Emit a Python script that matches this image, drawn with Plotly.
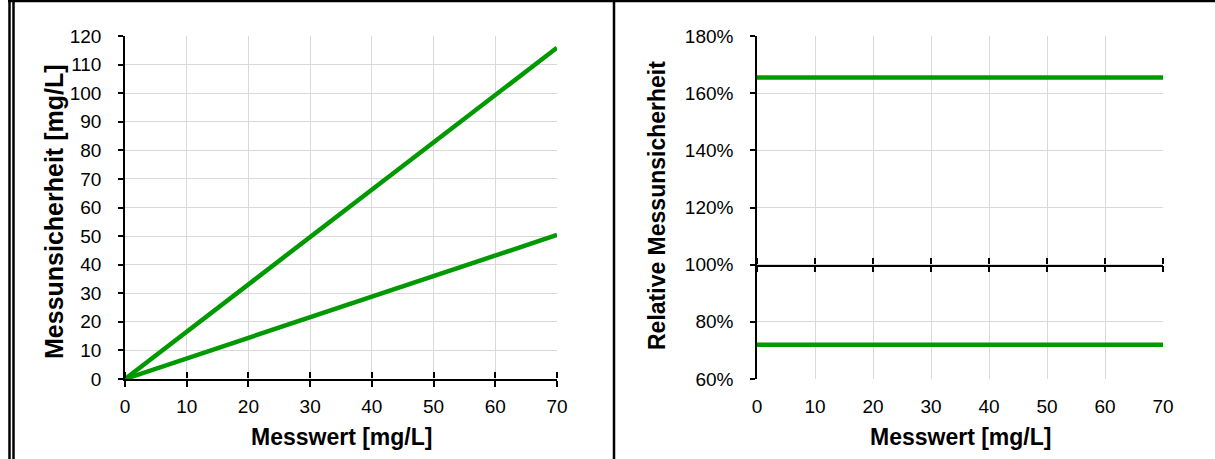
import plotly.graph_objects as go

# Messwert (x) and the resulting uncertainty bands
messwert = [0, 70]
unsicherheit_oben = [0, 115.9]
unsicherheit_unten = [0, 50.4]
relativ_oben = [165.5, 165.5]
relativ_unten = [72, 72]

x_ticks = [0, 10, 20, 30, 40, 50, 60, 70]
abs_ticks = [0, 10, 20, 30, 40, 50, 60, 70, 80, 90, 100, 110, 120]
rel_ticks = [60, 80, 100, 120, 140, 160, 180]
rel_labels = [f"{v}%" for v in rel_ticks]

W, H = 1215, 459
GREEN = "#009900"
GRID = "#d9d9d9"
FONT = "Liberation Sans, Arial, sans-serif"


def px_x(v):
    return v / W


def px_y(v):
    return 1 - v / H


# plot areas in pixels
L_X0, L_X1 = 125, 557
R_X0, R_X1 = 757, 1163
Y_TOP, Y_BOT = 36, 379

dom_left = [px_x(L_X0), px_x(L_X1)]
dom_right = [px_x(R_X0), px_x(R_X1)]
dom_y = [px_y(Y_BOT), px_y(Y_TOP)]
pos_100 = dom_y[0] + (dom_y[1] - dom_y[0]) * (100 - 60) / (180 - 60)

fig = go.Figure()
line_style = dict(color=GREEN, width=4.5)
for ys in (unsicherheit_oben, unsicherheit_unten):
    fig.add_trace(go.Scatter(x=messwert, y=ys, mode="lines", line=line_style,
                             xaxis="x", yaxis="y", showlegend=False, hoverinfo="skip"))
for ys in (relativ_oben, relativ_unten):
    fig.add_trace(go.Scatter(x=messwert, y=ys, mode="lines", line=line_style,
                             xaxis="x2", yaxis="y2", showlegend=False, hoverinfo="skip"))
# empty traces so the helper axes (crossing ticks, 100 % line) get their subplots
for xa, ya in (("x3", "y3"), ("x4", "y4"), ("x5", "y5")):
    fig.add_trace(go.Scatter(x=[], y=[], mode="lines", xaxis=xa, yaxis=ya,
                             showlegend=False, hoverinfo="skip"))

tickfont = dict(family=FONT, size=19, color="black")
tick_style = dict(tickcolor="black", tickwidth=1.5)
axis_line = dict(showline=True, linecolor="black", linewidth=1.5)
grid = dict(showgrid=True, gridcolor=GRID, gridwidth=1)
bare = dict(showgrid=False, zeroline=False, showticklabels=False, automargin=False)
hidden_y = dict(visible=False, range=[0, 1], fixedrange=True)

fig.update_layout(
    template="none",
    width=W, height=H,
    margin=dict(l=0, r=0, t=0, b=0, pad=0, autoexpand=False),
    paper_bgcolor="white", plot_bgcolor="rgba(0,0,0,0)",
    font=dict(family=FONT, color="black"),
    showlegend=False,
    # left chart
    xaxis=dict(domain=dom_left, anchor="y", range=[0, 70], tickvals=x_ticks,
               zeroline=False, automargin=False, tickfont=tickfont, **grid,
               **axis_line, ticks="outside", ticklen=6, **tick_style,
               ticklabelstandoff=3),
    yaxis=dict(domain=dom_y, anchor="x", range=[0, 120], tickvals=abs_ticks,
               zeroline=False, automargin=False, tickfont=tickfont, **grid,
               **axis_line, ticks="outside", ticklen=5, **tick_style,
               ticklabelstandoff=13),
    # upward half of the crossing ticks on the left x axis
    xaxis3=dict(domain=dom_left, anchor="y3", side="top", range=[0, 70],
                tickvals=x_ticks, ticks="outside", ticklen=6, **tick_style, **bare),
    yaxis3=dict(domain=[0, dom_y[0]], anchor="x3", **hidden_y),
    # right chart
    xaxis2=dict(domain=dom_right, anchor="y2", range=[0, 70], tickvals=x_ticks,
                zeroline=False, automargin=False, tickfont=tickfont, **grid,
                showline=False, ticks="", ticklabelstandoff=14),
    yaxis2=dict(domain=dom_y, anchor="x2", range=[60, 180], tickvals=rel_ticks,
                ticktext=rel_labels, zeroline=False, automargin=False,
                tickfont=tickfont, **grid, **axis_line, ticks="outside",
                ticklen=5, **tick_style, ticklabelstandoff=13),
    # axis line across 100 % with ticks on both sides
    xaxis4=dict(domain=dom_right, anchor="y4", side="bottom", range=[0, 70],
                tickvals=x_ticks, ticks="outside", ticklen=6, **tick_style,
                **axis_line, **bare),
    yaxis4=dict(domain=[pos_100, dom_y[1]], anchor="x4", **hidden_y),
    xaxis5=dict(domain=dom_right, anchor="y5", side="top", range=[0, 70],
                tickvals=x_ticks, ticks="outside", ticklen=6, **tick_style, **bare),
    yaxis5=dict(domain=[dom_y[0], pos_100], anchor="x5", **hidden_y),
)

annotations = [
    dict(text="<b>Messwert [mg/L]</b>", x=px_x((L_X0 + L_X1) / 2), y=px_y(437), size=23, angle=0),
    dict(text="<b>Messwert [mg/L]</b>", x=px_x((R_X0 + R_X1) / 2), y=px_y(437), size=23, angle=0),
    dict(text="<b>Messunsicherheit [mg/L]</b>", x=px_x(54), y=px_y(212), size=25, angle=-90),
    dict(text="<b>Relative Messunsicherheit</b>", x=px_x(657), y=px_y(206), size=23, angle=-90),
]
for a in annotations:
    fig.add_annotation(xref="paper", yref="paper", showarrow=False,
                       xanchor="center", yanchor="middle", text=a["text"],
                       x=a["x"], y=a["y"], textangle=a["angle"],
                       font=dict(family=FONT, size=a["size"], color="black"))

# surrounding frame: top rule, double rule on the left, divider between charts
frame = [
    (8, 1, W, 1),
    (9.5, 0, 9.5, H),
    (13.5, 2, 13.5, H),
    (614, 0, 614, H),
]
for x0, y0, x1, y1 in frame:
    fig.add_shape(type="line", xref="paper", yref="paper",
                  x0=px_x(x0), y0=px_y(y0), x1=px_x(x1), y1=px_y(y1),
                  line=dict(color="black", width=2.5), layer="above")

fig.write_html("out.html", post_script="document.body.style.margin='0';")
